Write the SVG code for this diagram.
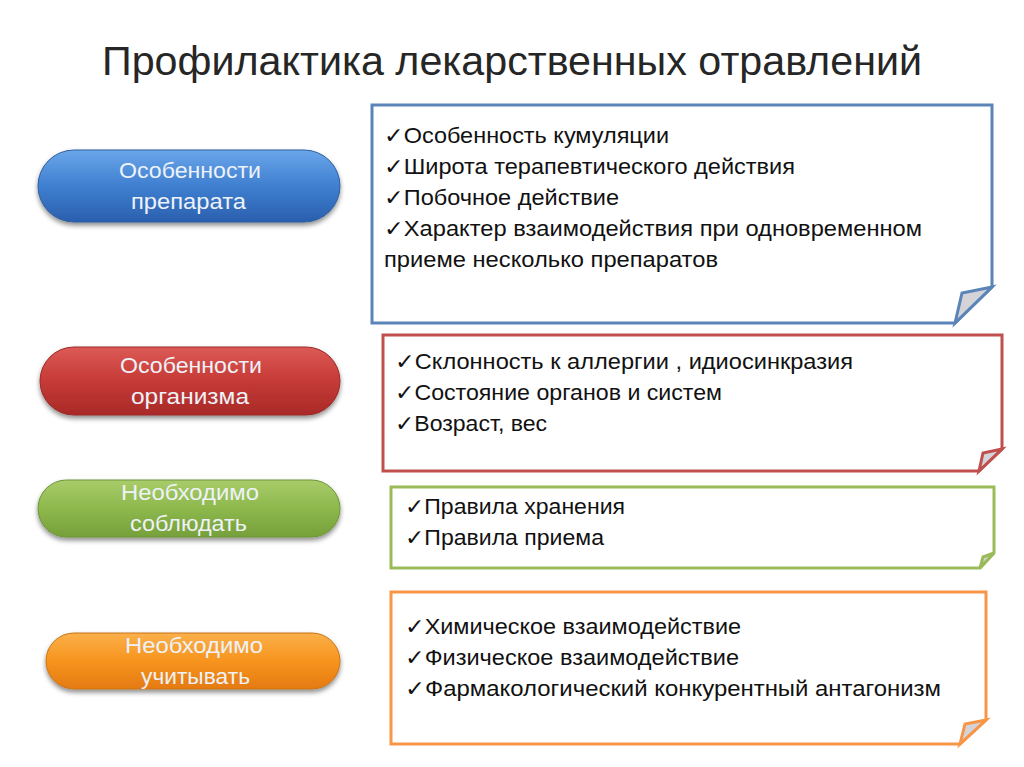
<svg xmlns="http://www.w3.org/2000/svg" width="1024" height="767" viewBox="0 0 1024 767">
<defs>
<linearGradient id="gBlue" x1="0" y1="0" x2="0" y2="1"><stop offset="0" stop-color="#6aa6ea"/><stop offset="0.5" stop-color="#3f7fd0"/><stop offset="1" stop-color="#2a5fae"/></linearGradient>
<linearGradient id="gRed" x1="0" y1="0" x2="0" y2="1"><stop offset="0" stop-color="#dc5a56"/><stop offset="0.5" stop-color="#c63a36"/><stop offset="1" stop-color="#a82a28"/></linearGradient>
<linearGradient id="gGreen" x1="0" y1="0" x2="0" y2="1"><stop offset="0" stop-color="#a8cc6a"/><stop offset="0.5" stop-color="#8db84c"/><stop offset="1" stop-color="#76a03a"/></linearGradient>
<linearGradient id="gOrange" x1="0" y1="0" x2="0" y2="1"><stop offset="0" stop-color="#fbb04a"/><stop offset="0.5" stop-color="#f7941e"/><stop offset="1" stop-color="#e47a10"/></linearGradient>
<filter id="sh" x="-10%" y="-20%" width="120%" height="160%"><feGaussianBlur in="SourceAlpha" stdDeviation="2.5"/><feOffset dx="0" dy="3" result="b"/><feComponentTransfer><feFuncA type="linear" slope="0.45"/></feComponentTransfer><feMerge><feMergeNode/><feMergeNode in="SourceGraphic"/></feMerge></filter>
</defs>
<style>
.title{font-family:"Liberation Sans","Open Sans",sans-serif;font-size:41px;fill:#262626}
.pill{font-family:"Liberation Sans","Open Sans",sans-serif;font-size:22px;fill:#eef2f8;text-anchor:start}
.item{font-family:"Liberation Sans","DejaVu Sans",sans-serif;font-size:22px;fill:#111}
.box{fill:#fff;stroke-width:3;stroke-linejoin:miter}
.fold{fill:#d4d4d8;stroke-width:3;stroke-linejoin:miter}
</style>
<rect width="1024" height="767" fill="#fff"/>
<text class="title" x="102" y="75" textLength="820" lengthAdjust="spacingAndGlyphs">Профилактика лекарственных отравлений</text>

<g id="pill-preparat">
<rect x="38" y="150" width="302" height="72" rx="36" ry="36" fill="url(#gBlue)" stroke="#2f5f9e" stroke-width="1" filter="url(#sh)"/>
<text class="pill" x="119" y="178" textLength="142" lengthAdjust="spacingAndGlyphs">Особенности</text>
<text class="pill" x="131" y="209" textLength="115" lengthAdjust="spacingAndGlyphs">препарата</text>
</g>
<g id="pill-organizm">
<rect x="40" y="347" width="300" height="68" rx="34" ry="34" fill="url(#gRed)" stroke="#9a2a28" stroke-width="1" filter="url(#sh)"/>
<text class="pill" x="120" y="373" textLength="142" lengthAdjust="spacingAndGlyphs">Особенности</text>
<text class="pill" x="131" y="404" textLength="118" lengthAdjust="spacingAndGlyphs">организма</text>
</g>
<g id="pill-sobl">
<rect x="38" y="480" width="302" height="57" rx="28.5" ry="28.5" fill="url(#gGreen)" stroke="#6e9436" stroke-width="1" filter="url(#sh)"/>
<text class="pill" x="121" y="500" textLength="138" lengthAdjust="spacingAndGlyphs">Необходимо</text>
<text class="pill" x="130" y="531" textLength="117" lengthAdjust="spacingAndGlyphs">соблюдать</text>
</g>
<g id="pill-uchit">
<rect x="46" y="633" width="294" height="56" rx="28" ry="28" fill="url(#gOrange)" stroke="#c87414" stroke-width="1" filter="url(#sh)"/>
<text class="pill" x="125" y="653" textLength="138" lengthAdjust="spacingAndGlyphs">Необходимо</text>
<text class="pill" x="141" y="684" textLength="109" lengthAdjust="spacingAndGlyphs">учитывать</text>
</g>

<g id="box-preparat">
<path class="box" stroke="#5b84b8" d="M372,105 H992 V287 L955,323 H372 Z"/>
<path class="fold" stroke="#5b84b8" d="M992,287 L962,293 L955,323 Z"/>
<text class="item" x="384" y="143" textLength="285" lengthAdjust="spacingAndGlyphs">✓Особенность кумуляции</text>
<text class="item" x="384" y="174" textLength="411" lengthAdjust="spacingAndGlyphs">✓Широта терапевтического действия</text>
<text class="item" x="384" y="205" textLength="235" lengthAdjust="spacingAndGlyphs">✓Побочное действие</text>
<text class="item" x="384" y="236" textLength="538" lengthAdjust="spacingAndGlyphs">✓Характер взаимодействия при одновременном</text>
<text class="item" x="384" y="267" textLength="334" lengthAdjust="spacingAndGlyphs">приеме несколько препаратов</text>
</g>
<g id="box-organizm">
<path class="box" stroke="#c0504d" d="M383,335 H1002 V449 L979,471 H383 Z"/>
<path class="fold" stroke="#c0504d" d="M1002,449 L983,453 L979,471 Z"/>
<text class="item" x="395" y="369" textLength="458" lengthAdjust="spacingAndGlyphs">✓Склонность к аллергии , идиосинкразия</text>
<text class="item" x="395" y="400" textLength="327" lengthAdjust="spacingAndGlyphs">✓Состояние органов и систем</text>
<text class="item" x="395" y="431" textLength="152" lengthAdjust="spacingAndGlyphs">✓Возраст, вес</text>
</g>
<g id="box-sobl">
<path class="box" stroke="#9bbb59" d="M391,487 H994 V553 L980,568 H391 Z"/>
<path class="fold" stroke="#9bbb59" d="M994,553 L983,557 L980,568 Z"/>
<text class="item" x="405" y="514" textLength="220" lengthAdjust="spacingAndGlyphs">✓Правила хранения</text>
<text class="item" x="405" y="545" textLength="199" lengthAdjust="spacingAndGlyphs">✓Правила приема</text>
</g>
<g id="box-uchit">
<path class="box" stroke="#f79646" d="M391,592 H986 V720 L960,744 H391 Z"/>
<path class="fold" stroke="#f79646" d="M986,720 L965,724 L960,744 Z"/>
<text class="item" x="405" y="634" textLength="336" lengthAdjust="spacingAndGlyphs">✓Химическое взаимодействие</text>
<text class="item" x="405" y="665" textLength="334" lengthAdjust="spacingAndGlyphs">✓Физическое взаимодействие</text>
<text class="item" x="405" y="696" textLength="536" lengthAdjust="spacingAndGlyphs">✓Фармакологический конкурентный антагонизм</text>
</g>
<g id="connectors"/>
</svg>
